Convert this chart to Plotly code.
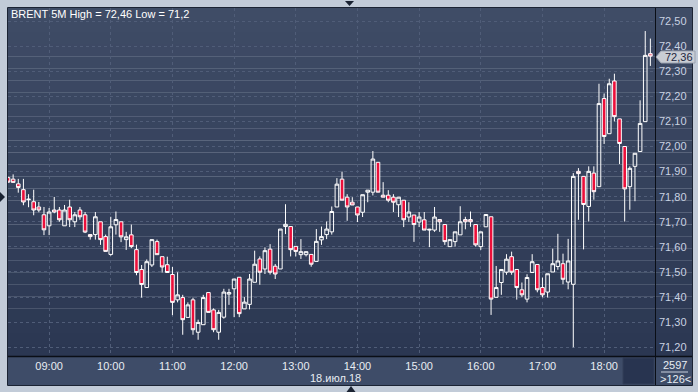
import pandas as pd
import plotly.graph_objects as go

# ---------------- data ----------------
times = pd.date_range("2018-07-18 08:20", periods=126, freq="5min")

opens = [71.876, 71.870, 71.851, 71.828, 71.788, 71.780, 71.759, 71.728, 71.684, 71.747,
         71.747, 71.684, 71.759, 71.700, 71.747, 71.728, 71.649, 71.649, 71.700, 71.641,
         71.570, 71.688, 71.700, 71.629, 71.648, 71.589, 71.510, 71.438, 71.528, 71.621,
         71.561, 71.529, 71.490, 71.389, 71.398, 71.319, 71.389, 71.260, 71.290, 71.418,
         71.349, 71.260, 71.320, 71.412, 71.433, 71.479, 71.353, 71.371, 71.459, 71.552,
         71.512, 71.591, 71.523, 71.512, 71.681, 71.681, 71.602, 71.569, 71.569, 71.570,
         71.542, 71.628, 71.649, 71.660, 71.759, 71.870, 71.798, 71.778, 71.759, 71.738,
         71.818, 71.818, 71.937, 71.806, 71.806, 71.798, 71.768, 71.786, 71.719, 71.727,
         71.699, 71.708, 71.667, 71.667, 71.709, 71.689, 71.601, 71.621, 71.648, 71.709,
         71.709, 71.689, 71.601, 71.680, 71.720, 71.399, 71.458, 71.499, 71.561, 71.510,
         71.429, 71.392, 71.498, 71.530, 71.438, 71.420, 71.500, 71.522, 71.533, 71.460,
         71.451, 71.901, 71.881, 71.761, 71.894, 71.840, 72.191, 72.051, 72.261, 72.110,
         72.000, 71.840, 71.921, 71.980, 72.099, 72.370]
highs = [71.880, 71.889, 71.871, 71.871, 71.810, 71.828, 71.779, 71.759, 71.755, 71.799,
         71.759, 71.767, 71.788, 71.739, 71.759, 71.739, 71.651, 71.739, 71.700, 71.649,
         71.720, 71.741, 71.700, 71.660, 71.689, 71.609, 71.528, 71.550, 71.629, 71.629,
         71.561, 71.561, 71.520, 71.499, 71.409, 71.379, 71.398, 71.310, 71.409, 71.418,
         71.355, 71.349, 71.433, 71.433, 71.472, 71.479, 71.400, 71.492, 71.585, 71.562,
         71.598, 71.611, 71.532, 71.671, 71.770, 71.681, 71.602, 71.631, 71.581, 71.570,
         71.671, 71.681, 71.701, 71.761, 71.874, 71.900, 71.810, 71.798, 71.759, 71.808,
         71.826, 71.982, 71.937, 71.858, 71.826, 71.810, 71.798, 71.786, 71.778, 71.727,
         71.739, 71.739, 71.672, 71.759, 71.709, 71.689, 71.629, 71.660, 71.762, 71.720,
         71.741, 71.689, 71.660, 71.729, 71.720, 71.524, 71.510, 71.571, 71.581, 71.510,
         71.458, 71.491, 71.571, 71.530, 71.478, 71.493, 71.593, 71.652, 71.573, 71.632,
         71.894, 71.914, 71.881, 71.921, 71.921, 72.250, 72.211, 72.270, 72.290, 72.110,
         72.000, 71.921, 71.973, 72.184, 72.460, 72.430]
lows = [71.855, 71.857, 71.816, 71.766, 71.758, 71.726, 71.738, 71.647, 71.647, 71.734,
        71.700, 71.684, 71.679, 71.679, 71.708, 71.655, 71.629, 71.629, 71.608, 71.582,
        71.565, 71.649, 71.619, 71.588, 71.595, 71.487, 71.398, 71.438, 71.520, 71.569,
        71.498, 71.498, 71.328, 71.379, 71.250, 71.319, 71.250, 71.230, 71.290, 71.339,
        71.260, 71.230, 71.314, 71.369, 71.320, 71.320, 71.353, 71.351, 71.459, 71.449,
        71.492, 71.490, 71.472, 71.512, 71.651, 71.562, 71.562, 71.552, 71.562, 71.521,
        71.542, 71.608, 71.631, 71.649, 71.759, 71.786, 71.704, 71.767, 71.699, 71.719,
        71.778, 71.805, 71.818, 71.798, 71.778, 71.739, 71.719, 71.679, 71.699, 71.620,
        71.679, 71.667, 71.599, 71.660, 71.660, 71.608, 71.601, 71.601, 71.648, 71.670,
        71.680, 71.601, 71.588, 71.680, 71.329, 71.399, 71.409, 71.489, 71.489, 71.390,
        71.399, 71.379, 71.498, 71.419, 71.399, 71.398, 71.500, 71.509, 71.451, 71.431,
        71.200, 71.708, 71.590, 71.701, 71.788, 71.840, 72.010, 72.051, 72.100, 71.930,
        71.701, 71.748, 71.782, 71.980, 72.099, 72.321]
closes = [71.858, 71.857, 71.837, 71.779, 71.790, 71.747, 71.747, 71.668, 71.739, 71.739,
          71.708, 71.747, 71.708, 71.728, 71.720, 71.659, 71.641, 71.720, 71.629, 71.582,
          71.680, 71.709, 71.640, 71.640, 71.601, 71.498, 71.450, 71.541, 71.629, 71.569,
          71.520, 71.498, 71.379, 71.409, 71.310, 71.369, 71.270, 71.299, 71.398, 71.339,
          71.270, 71.339, 71.420, 71.418, 71.472, 71.334, 71.380, 71.472, 71.531, 71.499,
          71.585, 71.499, 71.492, 71.671, 71.690, 71.589, 71.582, 71.581, 71.581, 71.531,
          71.622, 71.641, 71.671, 71.741, 71.850, 71.786, 71.759, 71.767, 71.727, 71.808,
          71.826, 71.950, 71.818, 71.798, 71.786, 71.778, 71.798, 71.708, 71.739, 71.689,
          71.719, 71.667, 71.670, 71.719, 71.700, 71.621, 71.629, 71.660, 71.700, 71.700,
          71.700, 71.608, 71.660, 71.729, 71.392, 71.438, 71.510, 71.551, 71.499, 71.438,
          71.409, 71.478, 71.541, 71.429, 71.409, 71.493, 71.533, 71.544, 71.471, 71.544,
          71.881, 71.892, 71.769, 71.901, 71.820, 72.171, 72.040, 72.250, 72.119, 72.012,
          71.831, 71.913, 71.973, 72.092, 72.363, 72.360]

price_ticks = [71.2, 71.3, 71.4, 71.5, 71.6, 71.7, 71.8, 71.9, 72.0, 72.1, 72.2, 72.3, 72.4, 72.5]
price_labels = ["71,20", "71,30", "71,40", "71,50", "71,60", "71,70", "71,80", "71,90",
                "72,00", "72,10", "72,20", "72,30", "72,40", "72,50"]
title_text = "BRENT 5M High = 72,46 Low = 71,2"
date_text = "18.июл.18"
last_label = "72,36"
count_top = "2597"
count_bottom = ">126<"

# ---------------- geometry helpers (pixel -> paper) ----------------
W, H = 698, 392
ML, MR, MT, MB = 8, 43, 8, 36
PW, PH = W - ML - MR, H - MT - MB


def px(x):
    return (x - ML) / PW


def py(y):
    return (H - MB - y) / PH


def hexmix(c1, c2, t):
    a = [int(c1[i:i + 2], 16) for i in (1, 3, 5)]
    b = [int(c2[i:i + 2], 16) for i in (1, 3, 5)]
    return "#" + "".join(f"{round(a[k] + (b[k] - a[k]) * t):02x}" for k in range(3))


shapes = []
# gradient background of plot + price panel
top_c, bot_c = "#3f4c66", "#2b3752"
n = 29
y0, y1 = 8, 357
for k in range(n):
    ya = y0 + (y1 - y0) * k / n
    yb = y0 + (y1 - y0) * (k + 1) / n
    shapes.append(dict(type="rect", xref="paper", yref="paper", layer="below",
                       x0=px(8), x1=px(692), y0=py(yb), y1=py(ya),
                       fillcolor=hexmix(top_c, bot_c, (k + 0.5) / n), line_width=0))
# time axis panel
shapes.append(dict(type="rect", xref="paper", yref="paper", layer="below",
                   x0=px(8), x1=px(692), y0=py(385), y1=py(357),
                   fillcolor="#3e4c68", line_width=0))
shapes.append(dict(type="rect", xref="paper", yref="paper", layer="above",
                   x0=px(623), x1=px(654), y0=py(384), y1=py(358),
                   fillcolor="#283450", line=dict(color="#323e58", width=1)))
# separators
shapes.append(dict(type="line", xref="paper", yref="paper", layer="above",
                   x0=px(655.5), x1=px(655.5), y0=py(385), y1=py(8),
                   line=dict(color="#0a0e16", width=1)))
shapes.append(dict(type="line", xref="paper", yref="paper", layer="above",
                   x0=px(8), x1=px(692), y0=py(356.5), y1=py(356.5),
                   line=dict(color="#0a0e16", width=1.5)))
# outer frame
shapes.append(dict(type="rect", xref="paper", yref="paper", layer="above",
                   x0=px(7.5), x1=px(692.5), y0=py(385.5), y1=py(7.5),
                   line=dict(color="#1b2333", width=1)))
# counter divider
shapes.append(dict(type="line", xref="paper", yref="paper", layer="above",
                   x0=px(661), x1=px(688), y0=py(372), y1=py(372),
                   line=dict(color="#c8d0de", width=1)))


def path(points):
    return "M " + " L ".join(f"{px(a)},{py(b)}" for a, b in points) + " Z"


# last price tag
shapes.append(dict(type="path", xref="paper", yref="paper", layer="above",
                   path=path([(656, 57), (661, 51), (695, 51), (695, 63), (661, 63)]),
                   fillcolor="#c9cdd4", line=dict(color="#9aa2b0", width=1)))
# small triangles
shapes.append(dict(type="path", xref="paper", yref="paper", layer="above",
                   path=path([(345, 1), (354, 1), (349.5, 6)]), fillcolor="#1a2232", line_width=0))
shapes.append(dict(type="path", xref="paper", yref="paper", layer="above",
                   path=path([(346.5, 392), (355.5, 392), (351, 386)]), fillcolor="#1a2232", line_width=0))
shapes.append(dict(type="path", xref="paper", yref="paper", layer="above",
                   path=path([(0, 192), (0, 202), (5, 197)]), fillcolor="#1a2232", line_width=0))

fig = go.Figure(go.Candlestick(
    x=times, open=opens, high=highs, low=lows, close=closes,
    increasing=dict(line=dict(color="#ffffff", width=1), fillcolor="rgba(0,0,0,0)"),
    decreasing=dict(line=dict(color="#ffffff", width=1), fillcolor="#ec0f3a"),
    whiskerwidth=0, showlegend=False, hoverinfo="skip",
))

font_family = "Liberation Sans, Arial, sans-serif"
annotations = [
    dict(text=title_text, xref="paper", yref="paper", x=px(9), y=py(14),
         xanchor="left", yanchor="middle", showarrow=False,
         font=dict(family=font_family, size=11, color="#ffffff")),
    dict(text=date_text, xref="paper", yref="paper", x=px(335), y=py(378),
         xanchor="center", yanchor="middle", showarrow=False,
         font=dict(family=font_family, size=11, color="#e8ecf3")),
    dict(text=count_top, xref="paper", yref="paper", x=px(675), y=py(365),
         xanchor="center", yanchor="middle", showarrow=False,
         font=dict(family=font_family, size=11, color="#e8ecf3")),
    dict(text=count_bottom, xref="paper", yref="paper", x=px(675), y=py(379),
         xanchor="center", yanchor="middle", showarrow=False,
         font=dict(family=font_family, size=11, color="#e8ecf3")),
    dict(text=last_label, xref="paper", yref="paper", x=px(663), y=py(57),
         xanchor="left", yanchor="middle", showarrow=False,
         font=dict(family=font_family, size=11, color="#1c2640")),
]

fig.update_layout(
    width=W, height=H,
    margin=dict(l=ML, r=MR, t=MT, b=MB, pad=0),
    paper_bgcolor="#c2cbd8", plot_bgcolor="rgba(0,0,0,0)",
    shapes=shapes, annotations=annotations, boxgap=0.3, boxgroupgap=0,
    font=dict(family=font_family, size=11),
    xaxis=dict(
        type="date",
        range=["2018-07-18 08:20:00", "2018-07-18 18:49:30"],
        rangeslider=dict(visible=False),
        tick0="2018-07-18 09:00", dtick=3600000, tickformat="%H:%M",
        showgrid=True, gridcolor="#505d78", griddash="3px,3px", gridwidth=1,
        zeroline=False, showline=False, ticks="",
        tickfont=dict(color="#e8ecf3", size=11, family=font_family),
        ticklabelstandoff=2,
    ),
    yaxis=dict(
        side="right",
        range=[71.1653, 72.5518],
        tickvals=price_ticks, ticktext=price_labels,
        showgrid=True, gridcolor="#505d78", griddash="3px,3px", gridwidth=1,
        zeroline=False, showline=False, ticks="",
        tickfont=dict(color="#c9d2e2", size=11, family=font_family),
        ticklabelstandoff=3,
    ),
)

fig.write_html("out.html")
